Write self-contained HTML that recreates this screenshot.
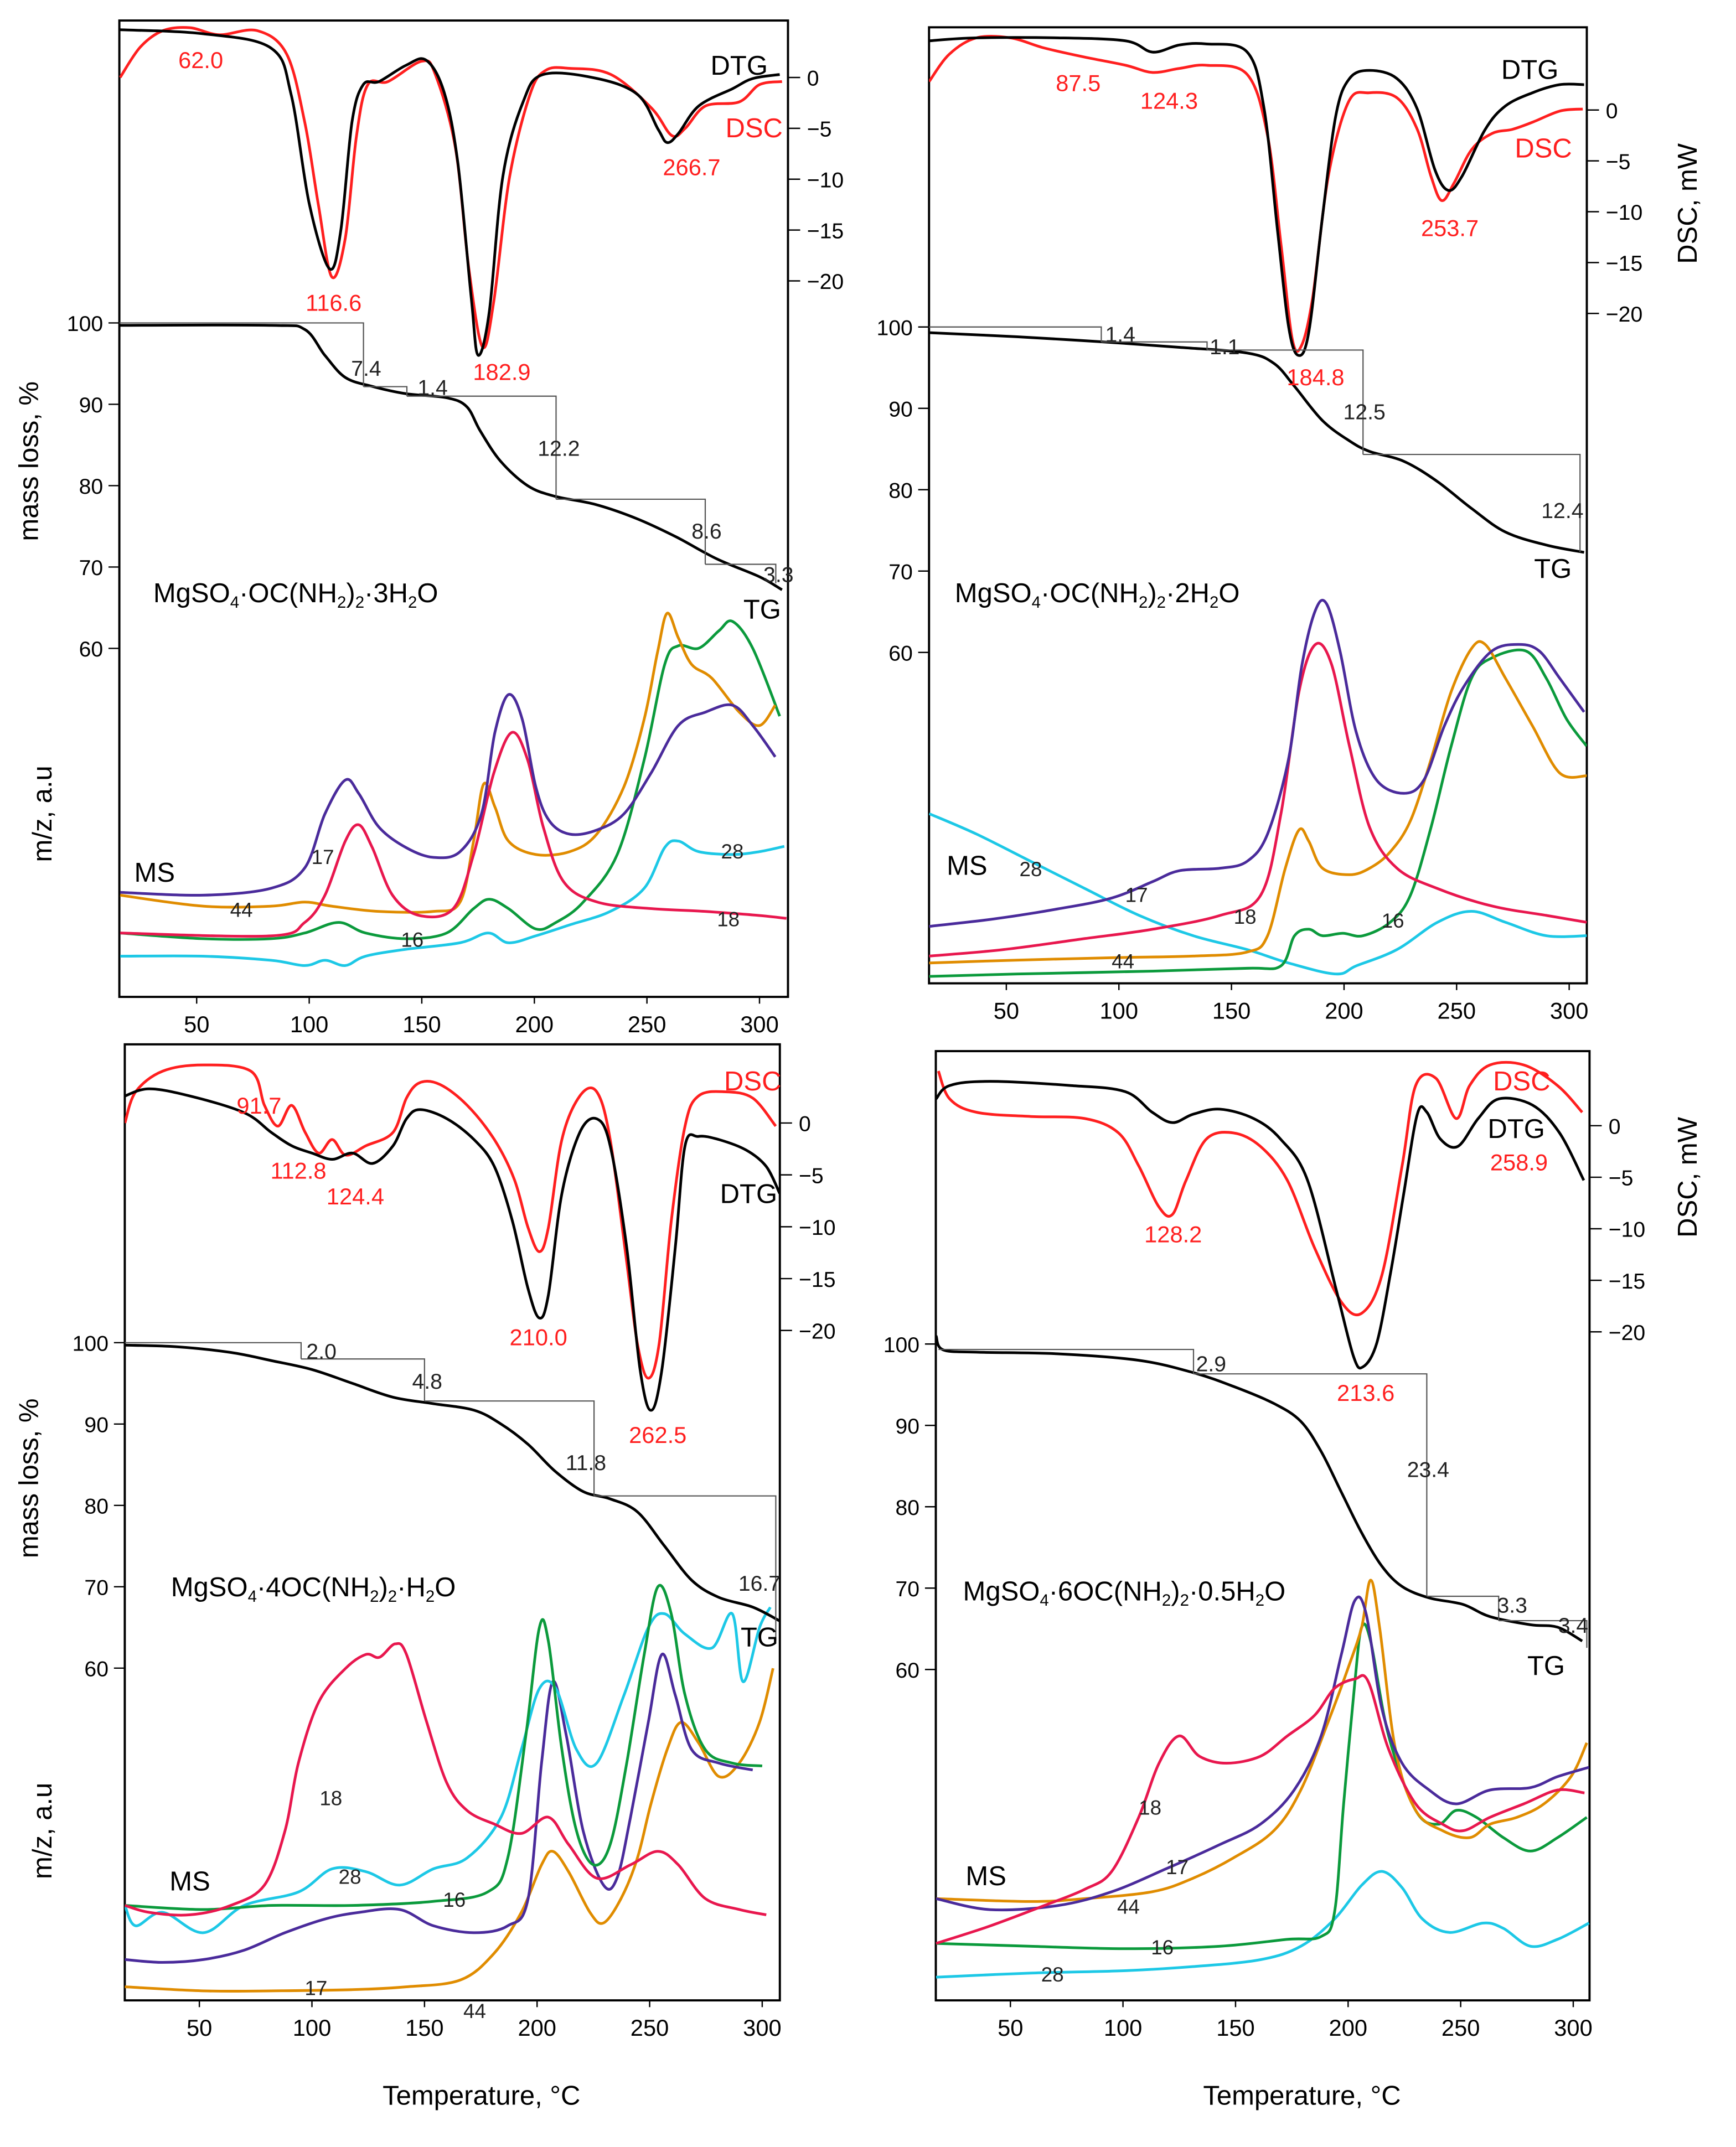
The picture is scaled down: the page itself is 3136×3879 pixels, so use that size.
<!DOCTYPE html>
<html><head><meta charset="utf-8"><style>
html,body{margin:0;padding:0;background:#fff}
svg{display:block}
text{font-family:"Liberation Sans",Arial,sans-serif}
</style></head><body>
<svg id="chart" width="3136" height="3879" viewBox="0 0 1280 1583" xmlns="http://www.w3.org/2000/svg">
<rect width="1280" height="1583" fill="#fff"/>
</svg>
<script>
// ===== Panel A data =====
const A_T_DSC=[16,25,35,47,60,77,90,98,104,110,116,121,126,135,150,156,165,171,177,182,189,198,205,216,234,252,261,267,276,291,300,310];
const A_DSC=[0,3,4.6,4.9,4.2,4.6,2.3,-4.4,-12.4,-19.6,-15.8,-5.7,-0.7,-0.4,1.6,0.3,-7,-19,-26.5,-22,-9.8,-1.7,0.7,0.9,0.3,-3,-5.7,-5,-2.8,-2.4,-0.7,-0.4];
const A_T_DTG=[16,53,83,92,100,109,114,119,124,131,143,152,160,166,172,175,180,186,195,204,228,246,255,259,264,273,288,297,309];
const A_DTG=[4.7,4.3,2.9,-1.7,-12.4,-18.8,-15.1,-4.4,-0.7,-0.4,1.2,1.7,-1.5,-8.4,-21.7,-27.3,-23,-9.7,-2.4,0.3,-0.1,-1.7,-5.1,-6.4,-5.5,-2.8,-1.1,-0.1,0.3];
const A_T_TG=[16,83,98,107,116,128,143,161,170,176,185,197,209,227,245,263,281,300,310];
const A_TG=[99.7,99.7,99.2,96,93.3,92.2,91.3,90.8,89.7,86.7,83,80,78.7,77.7,76,73.7,71,68.8,67.2];
const A_T_M17=[16,53,83,98,107,116,122,131,143,155,167,176.5,182.5,188.5,194.6,200.6,206.6,215.7,227.7,239.8,251.8,263.9,276,288,297,307];
const A_M17=[25.7,25,26.7,31.7,45,53.3,50,41.7,36.7,34.3,35.7,45,65,74.3,68.3,51.7,43.3,40,41,45,55,66.7,70,71.7,66.7,59];
const A_T_M18=[16,83,98,107,116,122,128,137,149,164,173,182,190,197,204,213,228,252,276,300,312];
const A_M18=[15.7,15,18.3,25,38.3,42.3,36.7,25,20,21.7,35,55,65,58.3,41.7,28.3,23.3,21.7,21,20,19.3];
const A_T_M44=[16,53,83,98,110,131,155,167,173,177.5,182.5,188.5,200.6,215.7,227.7,239.8,248.8,254.8,259,263.9,269.9,278.9,291,300,307];
const A_M44=[25,22.3,22.3,23.3,22.3,21,21,23.3,38.3,52.3,46.7,38.3,35,35.7,40,51.7,68.3,85,94.3,88.3,81.7,78.3,70,66.7,71.7];
const A_T_M16=[16,53,83,98,113,125,143,161,173,180,188.5,200.6,209.6,221.7,236.8,248.8,257.9,263.9,273,282,288,297,309];
const A_M16=[15.7,14.3,14.3,15.7,18.3,15.7,14.3,15.7,21.7,24,21.7,16.7,18.3,23.3,35,58.3,81.7,86.3,85.7,90,92.3,85.7,69];
const A_T_M28=[16,53,83,98,107,116,125,143,167,179.5,188.5,200.6,215.7,233.7,248.8,257.9,263.9,273,288,300,311];
const A_M28=[10,10,9,7.7,9,7.7,10,11.7,13.3,15.7,13.3,15,17.7,21,26.7,36.7,38.3,35.7,35,35.7,37];
// ===== Panel B data =====
const B_T_DSC=[15.7,24.7,36.7,51.8,66.9,84.9,103,115,127,139,157,166,172,177,181,186,193,202,211,223.5,232.5,238.6,243.4,248.8,256.6,265.7,274.7,283.7,295.8,306];
const B_DSC=[2.8,5.5,7.1,7.1,6.1,5.2,4.4,3.7,4.1,4.4,3.5,-2.5,-13.2,-22.5,-23.2,-18.5,-6.5,0.8,1.7,1.2,-1.9,-6.5,-8.9,-7.2,-3.9,-2.3,-1.9,-1.2,-0.1,0.1];
const B_T_DTG=[15.7,36.7,72.9,103,115,127,139,157,164.5,170.5,175.3,179.5,184.3,190.4,196.4,202.4,211.4,223.5,232.5,240.4,246.4,252.4,262.7,271.7,283.7,295.8,306.6];
const B_DTG=[6.8,7.1,7.1,6.8,5.7,6.4,6.5,5.7,0.1,-11.9,-21.2,-24.1,-21.9,-10.5,-0.5,3.1,3.9,3.1,0.1,-5.9,-7.9,-6.5,-1.9,0.4,1.7,2.5,2.5];
const B_T_TG=[15.7,54.8,91,127,157,169,178,190.4,202.4,211.4,226.5,241.5,256.6,271.7,289.8,306.6];
const B_TG=[99.3,98.8,98.2,97.5,96.8,95.5,92.7,88.5,86,84.7,83.5,81,77.7,74.8,73.2,72.3];
const B_T_M28=[15.7,36.7,60.8,84.9,109,133,157,175.3,196.4,205.4,223.5,241.5,256.6,271.7,289.8,307.8];
const B_M28=[41.7,36.7,30,23.3,16.7,11.7,8.3,5,2.3,4.3,8.3,15,17.7,15,11.7,11.7];
const B_T_M17=[15.7,42.8,72.9,97,115,127,145,157,166,175.3,181.3,187.3,192.2,198.2,205.4,214.4,226.5,235.5,244.6,253.6,265.7,277.7,286.7,295.8,306.6];
const B_M17=[14,15.7,18.3,21,25,27.7,28.3,30,36.7,55,78.3,91.7,93.3,81.7,61.7,50,46.7,50,63.3,73.3,81.7,83.3,81.7,75,66.7];
const B_T_M18=[15.7,48.8,84.9,115,145,163,172,180,187.3,194.5,202.4,211.4,223.5,241.5,265.7,289.8,307.8];
const B_M18=[6.7,8.3,11,13.3,16.7,21.7,41.7,71.7,83.3,78.3,58.3,38.3,28.3,23.3,19,16.7,15];
const B_T_M44=[15.7,54.8,97,133,157,166,173.9,180,184.3,190.4,202.4,211.4,220.5,229.5,238.6,247.6,256.6,262.7,271.7,283.7,295.8,307.8];
const B_M44=[5,5.7,6.3,6.7,7.7,11.7,28.3,37.7,35,28.3,26.7,28.3,32.3,40,55,71.7,82.3,83.3,75,63.3,51.7,51];
const B_T_M16=[15.7,54.8,115,157,172,178,184.3,190.4,199.4,208.4,220.5,229.5,238.6,247.6,256.6,265.7,280.7,289.8,298.8,307.8];
const B_M16=[1.7,2.3,3,3.7,4.3,11.7,13.3,11.7,12.3,11.7,15,21.7,38.3,58.3,75,80,81.7,75,65,58.3];
// ===== Panel C data =====
const C_T_DSC=[16.9,21.7,33.7,51.8,72.9,78.9,84.9,91,97,103,109,115,124,136,142,148,157,169,181,190,196,201,205,211,219,226.5,232.5,239.8,244.6,249.4,254.2,259.6,265.7,271.7,283.7,295.8,306];
const C_DSC=[0,3,5,5.6,5,1.7,-0.3,1.7,-0.9,-2.9,-1.6,-3.1,-2.2,-0.9,2.4,3.9,3.7,1.7,-1.6,-5.5,-10.1,-12.4,-10.1,-1.6,2.6,3,-1.6,-13.4,-21.3,-24.6,-21.3,-9.5,-0.3,2.6,3,2.4,-0.3];
const C_T_DTG=[16.9,27.7,45.8,69.9,81.9,91,100,109,118,127,136,142,148,160,172,181,189,196,201,205,211,219,226.5,232.5,239.8,245.8,250.6,255.4,261.4,265.7,271.7,280.7,292.8,301.8,307.8];
const C_DTG=[2.6,3.3,2.6,1,-0.9,-2.2,-2.9,-3.5,-2.9,-3.9,-2.2,0.4,1.3,0.4,-1.6,-4.2,-9.4,-16,-18.8,-16.6,-6.8,-0.9,0.4,-2.2,-12,-23.8,-27.7,-23.8,-12,-2.2,-1.3,-1.6,-2.6,-4.2,-6.8];
const C_T_TG=[16.9,39.8,63.9,81.9,100,118,136,154,172,184,196,208,220.5,232.5,244.6,256.6,268.7,280.7,295.8,307.8];
const C_TG=[99.7,99.5,98.8,97.8,96.7,95,93.3,92.5,91.7,90,87.5,84.2,81.7,80.8,79.2,75,70.8,68.7,67.5,65.8];
const C_T_M18=[16.9,27.7,45.8,63.9,78.9,88,94,103,115,124,130,137,142,151,160,169,181,193,205,214,226.5,241.5,253.6,262.7,274.7,289.8,301.8];
const C_M18=[24,22.3,21.7,24,29,42.3,59,74,82.3,85.7,85,88.3,85.7,69,54,47.3,44,41.7,45.7,39,30.7,34,37.3,34,25.7,23,21.7];
const C_T_M28=[16.9,21.7,33.7,51.8,69.9,94,109,124,139,154,169,184,193,201,208.4,217.5,226.5,238.6,249.4,256.6,265.7,277.7,286.7,291.5,298.8,303.6];
const C_M28=[24,19,22.3,17.3,24,27.3,33,32.3,29,33,35.7,45.7,62.3,77.3,77.3,62.3,59,75.7,92.3,95.7,90.7,87.3,95.7,79,92.3,97.3];
const C_T_M16=[16.9,51.8,81.9,118,154,178,187,195,201,205,211,217.5,225,232.5,239.8,247.6,253.6,259.6,265.7,274.7,286.7,300];
const C_M16=[24,23,24,24,25,27.3,35.7,65.7,92.3,89,62.3,42.3,34,39,59,85.7,102.3,95.7,75.7,62.3,59,58.3];
const C_T_M17=[16.9,33.7,51.8,69.9,88,106,121,139,154,172,187,196,202,207,213,220.5,229.5,235.5,241.5,249.4,255.4,261.4,268.7,280.7,295.8];
const C_M17=[10.7,10,10.7,13,17.3,20.7,22.3,23,19,17.3,19,25.7,59,79,65.7,42.3,29,30.7,45.7,69,85.7,75.7,62.3,59,57.3];
const C_T_M44=[16.9,51.8,81.9,118,142,166,181,193,202,207,214,223.5,229.5,237.3,244.6,250.6,257.8,263.9,271.7,280.7,289.8,298.8,304.8];
const C_M44=[4,3,3,3.3,4,5.7,12.3,22.3,34,37.3,32.3,22.3,19.7,25.7,35.7,49,62.3,69,64,55.7,59,69,82.3];
// ===== Panel D data =====
const D_T_DSC=[18,23,35,59,83,98,107,116,122,128,137,149,161,173,185,197,206,215,224,230,239,248,254,263,278,293,304];
const D_DSC=[5.3,2.6,1.3,0.9,0.7,-0.7,-3.9,-7.9,-8.6,-5.3,-1.3,-0.7,-2,-5.3,-11.8,-17.1,-18.2,-14.5,-3.9,3.9,4.6,0.7,3.9,5.9,5.9,3.9,1.3];
const D_T_DTG=[17,23,41,77,101,113,122,131,143,158,170,182,194.6,202.4,206.6,212.7,218.7,224.7,230.7,235,241,248.8,257.8,266.9,281.9,293.9,304.7];
const D_DTG=[2.6,3.9,4.3,3.9,3.3,1.3,0.3,1.1,1.6,0.7,-1.3,-5.3,-15.8,-22.4,-23.4,-21.1,-14.5,-6.6,1.1,1.3,-1.3,-2,0.7,2.6,2,-0.7,-5.3];
const D_T_TG=[17,20,35,71,107,131,149,167,179,188,197,206,215,224,236,251,263,281,293,304];
const D_TG=[101,99.3,99,98.8,98,96.5,94.8,92.7,90.5,86.8,81.8,76.8,72.7,70.2,68.8,68,66.5,65.5,65.2,63.5];
const D_T_M18=[17,41,65,83,95,107,116,125,134,146,161,173,185,194,203,209,218,230,242,251,263,278,293,305];
const D_M18=[14,18.3,23.3,27.3,31.7,45,58.3,65,60,58.3,60,65,70,76.7,79,78.3,61.7,48.3,43.3,41.7,45,48.3,51.7,51];
const D_T_M17=[17,41,71,95,119,143,161,176,188,197,203,208,215,224,236,248,263,281,293,307];
const D_M17=[25,22.3,23.3,26.7,32.3,38.3,43.3,51.7,65,85,98.3,95,71.7,58.3,51.7,48.3,51.7,52.3,55,57.3];
const D_T_M44=[17,59,83,113,131,149,167,179,191,200,206,210,214,221,230,242,254,263,275,287,299,306];
const D_M44=[25,24.3,25,26.7,30,35,41.7,51.7,68.3,81.7,91.7,103.3,91.7,61.7,46.7,41.7,40,43.3,45,48.3,55,63.3];
const D_T_M16=[17,59,101,143,173,188,194,198,203,206,210,218,230,240,248,257,269,281,293,306];
const D_M16=[14,13.3,12.7,13.3,15,15.7,21.7,48.3,78.3,91.7,88.3,65,46.7,43.3,46.7,45,40,36.7,40,45];
const D_T_M28=[17,59,101,131,161,179,194,206,215,224,233,245,260,269,281,293,307];
const D_M28=[5.7,6.7,7.3,8.3,10,13.3,20,28.3,31.7,27.7,20,16.7,19,17.7,13.3,15,19];
const X_TICKS=[50,100,150,200,250,300];
const M_TICKS=[100,90,80,70,60];
const D_TICKS=[0,-5,-10,-15,-20];

const NS='http://www.w3.org/2000/svg';
const svg=document.getElementById('chart');
function mk(tag,attrs,parent){const e=document.createElementNS(NS,tag);for(const k in attrs)e.setAttribute(k,attrs[k]);(parent||svg).appendChild(e);return e;}
function txt(x,y,s,size,color,parent,anchor,rot){const t=mk('text',{x:x,y:y,'font-size':size,fill:color||'#000','text-anchor':anchor||'middle'},parent);if(rot)t.setAttribute('transform','rotate(-90 '+x+' '+y+')');t.textContent=s;return t;}
function smooth(pts){let d='M'+pts[0][0].toFixed(1)+','+pts[0][1].toFixed(1);for(let i=0;i<pts.length-1;i++){const p0=pts[i-1]||pts[i],p1=pts[i],p2=pts[i+1],p3=pts[i+2]||p2;const c1=[p1[0]+(p2[0]-p0[0])/6,p1[1]+(p2[1]-p0[1])/6],c2=[p2[0]-(p3[0]-p1[0])/6,p2[1]-(p3[1]-p1[1])/6];d+=' C'+c1[0].toFixed(1)+','+c1[1].toFixed(1)+' '+c2[0].toFixed(1)+','+c2[1].toFixed(1)+' '+p2[0].toFixed(1)+','+p2[1].toFixed(1);}return d;}
function makePanel(id,c){
  const g=mk('g',{});
  
  
  const cp=mk('clipPath',{id:'clip'+id},g);
  mk('rect',{x:c.fx0,y:c.fy0,width:c.fx1-c.fx0,height:c.fy1-c.fy0},cp);
  const p={g:g,c:c,
    x:t=>c.x50+(t-50)*1.66,
    ym:m=>c.m100+(100-m)*6,
    yd:d=>c.d0-d*c.dk,
    yi:v=>c.ms0-v*3};
  const fr=mk('rect',{x:c.fx0,y:c.fy0,width:c.fx1-c.fx0,height:c.fy1-c.fy0,fill:'none',stroke:'#000','stroke-width':1.6},g);
  
  
  X_TICKS.forEach(t=>{const X=p.x(t);mk('line',{x1:X,x2:X,y1:c.fy1,y2:c.fy1+5,stroke:'#000','stroke-width':1},g);const l=txt(X,c.fy1+26,String(t),17,'#000',g);});
  M_TICKS.forEach(m=>{const Y=p.ym(m);mk('line',{x1:c.fx0-8,x2:c.fx0,y1:Y,y2:Y,stroke:'#000','stroke-width':1},g);const l=txt(c.fx0-12,Y+6,String(m),16,'#000',g,'end');});
  D_TICKS.forEach(d=>{const Y=p.yd(d);mk('line',{x1:c.fx1,x2:c.fx1+9,y1:Y,y2:Y,stroke:'#000','stroke-width':1},g);const l=txt(c.fx1+14,Y+6,d===0?'0':'\u2212'+(-d),16,'#000',g,'start');});
  p.cg=mk('g',{'clip-path':'url(#clip'+id+')'},g);
  return p;}
function curve(p,Ts,Vs,kind,color,name,w){
  const f=kind==='m'?p.ym:kind==='d'?p.yd:p.yi;
  const pts=Ts.map((t,i)=>[p.x(t),f(Vs[i])]);
  const e=mk('path',{d:smooth(pts),fill:'none',stroke:color,'stroke-width':w||2,'stroke-linejoin':'round'},p.cg);
  
  
}
function steps(p,segs){let d='';segs.forEach(s=>{d+='M'+s[0]+','+s[1]+' H'+s[2]+' V'+s[3]+' ';});const e=mk('path',{d:d,fill:'none',stroke:'#555','stroke-width':0.9},p.g);}
function label(p,x,y,s,size,color,name){const t=txt(x,y,s,size,color,p.g);return t;}
function formula(p,x,y,parts,name){const t=mk('text',{x:x,y:y,'font-size':20,fill:'#000','text-anchor':'start'},p.g);parts.forEach(pt=>{const s=mk('tspan',{},t);if(pt[1]){s.setAttribute('font-size',12);s.setAttribute('dy',4);}else if(pt[2]){s.setAttribute('dy',-4);}s.textContent=pt[0];});}
const RED='#ff1f1f',PUR='#4a2b9b',CRIM='#e8174e',ORA='#e08c00',GRN='#0b9a3c',CYA='#1dc8e6';
function sub(parts){// [text,isSub] -> add dy resets
  const out=[];let prevSub=false;parts.forEach(s=>{if(typeof s==='string'){out.push([s,false,prevSub]);prevSub=false;}else{out.push([s[0],true,false]);prevSub=true;}});return out;}

// ---- Panel A
const pA=makePanel('A',{x50:145,m100:238,d0:57,dk:7.5,ms0:735,fx0:88,fy0:15,fx1:581,fy1:735});
curve(pA,A_T_M28,A_M28,'i',CYA,'ms-28-line');
curve(pA,A_T_M16,A_M16,'i',GRN,'ms-16-line');
curve(pA,A_T_M44,A_M44,'i',ORA,'ms-44-line');
curve(pA,A_T_M18,A_M18,'i',CRIM,'ms-18-line');
curve(pA,A_T_M17,A_M17,'i',PUR,'ms-17-line');
curve(pA,A_T_TG,A_TG,'m','#000','tg-line');
curve(pA,A_T_DSC,A_DSC,'d',RED,'dsc-line');
curve(pA,A_T_DTG,A_DTG,'d','#000','dtg-line');
steps(pA,[[88,238,268,285],[268,285,300,292],[300,292,410,368],[410,368,520,416],[520,416,572,430]]);
[[270,277,'7.4'],[319,291,'1.4'],[412,336,'12.2'],[521,397,'8.6'],[574,429,'3.3']].forEach(l=>label(pA,l[0],l[1],l[2],16,'#222','step-value'));
[[148,50,'62.0'],[246,229,'116.6'],[370,280,'182.9'],[510,129,'266.7']].forEach(l=>label(pA,l[0],l[1],l[2],17,RED,'peak-temp'));
label(pA,545,55,'DTG',20,'#000','dtg-label');label(pA,556,101,'DSC',20,RED,'dsc-label');label(pA,562,456,'TG',20,'#000','tg-label');
label(pA,114,650,'MS',20,'#000','ms-label');
[[238,637,'17'],[537,683,'18'],[178,676,'44'],[304,698,'16'],[540,633,'28']].forEach(l=>label(pA,l[0],l[1],l[2],15,'#222','ms-mz-label'));
formula(pA,113,444,sub(['MgSO',['4'],'\u00b7OC(NH',['2'],')',['2'],'\u00b73H',['2'],'O']),'compound-label');
// ---- Panel B
const pB=makePanel('B',{x50:742,m100:241,d0:81,dk:7.5,ms0:725,fx0:685,fy0:20,fx1:1170,fy1:725});
curve(pB,B_T_M28,B_M28,'i',CYA,'ms-28-line');
curve(pB,B_T_M16,B_M16,'i',GRN,'ms-16-line');
curve(pB,B_T_M44,B_M44,'i',ORA,'ms-44-line');
curve(pB,B_T_M18,B_M18,'i',CRIM,'ms-18-line');
curve(pB,B_T_M17,B_M17,'i',PUR,'ms-17-line');
curve(pB,B_T_TG,B_TG,'m','#000','tg-line');
curve(pB,B_T_DSC,B_DSC,'d',RED,'dsc-line');
curve(pB,B_T_DTG,B_DTG,'d','#000','dtg-line');
steps(pB,[[685,241,812,252],[812,252,890,258],[890,258,1005,335],[1005,335,1165,407]]);
[[826,252,'1.4'],[903,261,'1.1'],[1006,309,'12.5'],[1152,382,'12.4']].forEach(l=>label(pB,l[0],l[1],l[2],16,'#222','step-value'));
[[795,67,'87.5'],[862,80,'124.3'],[970,284,'184.8'],[1069,174,'253.7']].forEach(l=>label(pB,l[0],l[1],l[2],17,RED,'peak-temp'));
label(pB,1128,58,'DTG',20,'#000','dtg-label');label(pB,1138,116,'DSC',20,RED,'dsc-label');label(pB,1145,426,'TG',20,'#000','tg-label');
label(pB,713,645,'MS',20,'#000','ms-label');
[[760,646,'28'],[838,665,'17'],[918,681,'18'],[1027,684,'16'],[828,714,'44']].forEach(l=>label(pB,l[0],l[1],l[2],15,'#222','ms-mz-label'));
formula(pB,704,444,sub(['MgSO',['4'],'\u00b7OC(NH',['2'],')',['2'],'\u00b72H',['2'],'O']),'compound-label');
label(pB,1250,150,'',1,'#000','spacer');
txt(1251,150,'DSC, mW',20,'#000',pB.g,'middle',true);
// ---- Panel C
const pC=makePanel('C',{x50:147,m100:990,d0:828,dk:7.65,ms0:1477,fx0:92,fy0:770,fx1:575,fy1:1475});
curve(pC,C_T_M44,C_M44,'i',ORA,'ms-44-line');
curve(pC,C_T_M17,C_M17,'i',PUR,'ms-17-line');
curve(pC,C_T_M28,C_M28,'i',CYA,'ms-28-line');
curve(pC,C_T_M16,C_M16,'i',GRN,'ms-16-line');
curve(pC,C_T_M18,C_M18,'i',CRIM,'ms-18-line');
curve(pC,C_T_TG,C_TG,'m','#000','tg-line');
curve(pC,C_T_DSC,C_DSC,'d',RED,'dsc-line');
curve(pC,C_T_DTG,C_DTG,'d','#000','dtg-line');
steps(pC,[[92,990,222,1002],[222,1002,313,1033],[313,1033,438,1103],[438,1103,572,1210]]);
[[237,1002,'2.0'],[315,1024,'4.8'],[432,1084,'11.8'],[560,1173,'16.7']].forEach(l=>label(pC,l[0],l[1],l[2],16,'#222','step-value'));
[[191,821,'91.7'],[220,869,'112.8'],[262,888,'124.4'],[397,992,'210.0'],[485,1064,'262.5']].forEach(l=>label(pC,l[0],l[1],l[2],17,RED,'peak-temp'));
label(pC,555,804,'DSC',20,RED,'dsc-label');label(pC,552,887,'DTG',20,'#000','dtg-label');label(pC,560,1214,'TG',20,'#000','tg-label');
label(pC,140,1394,'MS',20,'#000','ms-label');
[[244,1331,'18'],[258,1389,'28'],[335,1406,'16'],[233,1471,'17'],[350,1488,'44']].forEach(l=>label(pC,l[0],l[1],l[2],15,'#222','ms-mz-label'));
formula(pC,126,1177,sub(['MgSO',['4'],'\u00b74OC(NH',['2'],')',['2'],'\u00b7H',['2'],'O']),'compound-label');
// ---- Panel D
const pD=makePanel('D',{x50:745,m100:991,d0:830,dk:7.6,ms0:1475,fx0:690,fy0:775,fx1:1172,fy1:1475});
curve(pD,D_T_M28,D_M28,'i',CYA,'ms-28-line');
curve(pD,D_T_M16,D_M16,'i',GRN,'ms-16-line');
curve(pD,D_T_M44,D_M44,'i',ORA,'ms-44-line');
curve(pD,D_T_M17,D_M17,'i',PUR,'ms-17-line');
curve(pD,D_T_M18,D_M18,'i',CRIM,'ms-18-line');
curve(pD,D_T_TG,D_TG,'m','#000','tg-line');
curve(pD,D_T_DSC,D_DSC,'d',RED,'dsc-line');
curve(pD,D_T_DTG,D_DTG,'d','#000','dtg-line');
steps(pD,[[692,995,880,1013],[880,1013,1052,1177],[1052,1177,1105,1195],[1105,1195,1170,1215]]);
[[893,1011,'2.9'],[1053,1089,'23.4'],[1115,1189,'3.3'],[1160,1204,'3.4']].forEach(l=>label(pD,l[0],l[1],l[2],16,'#222','step-value'));
[[865,916,'128.2'],[1007,1033,'213.6'],[1120,863,'258.9']].forEach(l=>label(pD,l[0],l[1],l[2],17,RED,'peak-temp'));
label(pD,1122,804,'DSC',20,RED,'dsc-label');label(pD,1118,839,'DTG',20,'#000','dtg-label');label(pD,1140,1235,'TG',20,'#000','tg-label');
label(pD,727,1390,'MS',20,'#000','ms-label');
[[848,1338,'18'],[868,1382,'17'],[832,1411,'44'],[857,1441,'16'],[776,1461,'28']].forEach(l=>label(pD,l[0],l[1],l[2],15,'#222','ms-mz-label'));
formula(pD,710,1180,sub(['MgSO',['4'],'\u00b76OC(NH',['2'],')',['2'],'\u00b70.5H',['2'],'O']),'compound-label');
txt(1251,868,'DSC, mW',20,'#000',pD.g,'middle',true);
// ---- shared axis titles
[[28,340,'mass loss, %'],[38,600,'m/z, a.u'],[28,1090,'mass loss, %'],[38,1350,'m/z, a.u']].forEach(a=>{const t=txt(a[0],a[1],a[2],20,'#000',svg,'middle',true);});
[[355,1552],[960,1552]].forEach(a=>{const t=txt(a[0],a[1],'Temperature, \u00b0C',20,'#000');});
</script>
</body></html>
